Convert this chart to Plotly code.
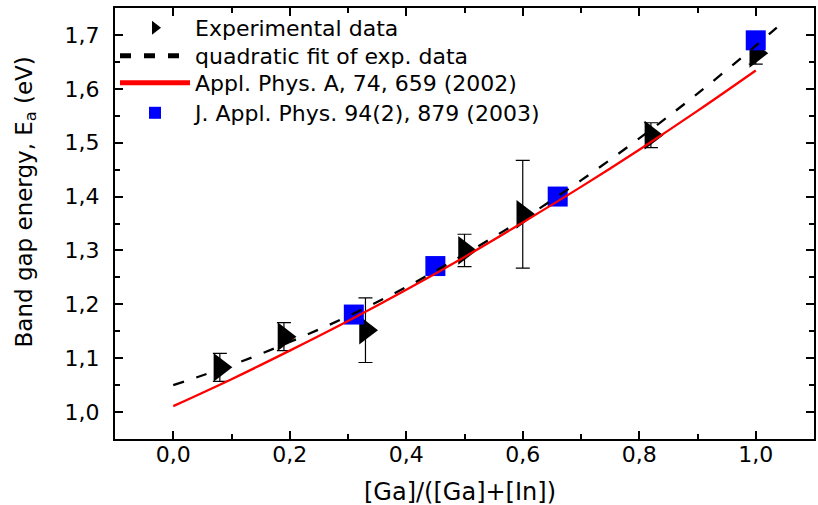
import plotly.graph_objects as go

# Experimental band gap of Cu(In,Ga)Se2 vs. Ga fraction
exp_x = [0.08, 0.19, 0.33, 0.50, 0.60, 0.82, 1.00]
exp_y = [1.083, 1.140, 1.152, 1.300, 1.367, 1.514, 1.666]
exp_err = [0.026, 0.026, 0.060, 0.030, 0.100, 0.023, 0.020]

# Quadratic fit of the experimental data (curve values)
fit_x = [0.0, 0.1, 0.2, 0.3, 0.4, 0.5, 0.6, 0.7, 0.8, 0.9, 1.0, 1.05]
fit_y = [1.050, 1.087, 1.130, 1.178, 1.232, 1.293, 1.358, 1.430, 1.508, 1.591, 1.680, 1.727]

# Appl. Phys. A, 74, 659 (2002)
apa_x = [0.0, 0.1, 0.2, 0.3, 0.4, 0.5, 0.6, 0.7, 0.8, 0.9, 1.0]
apa_y = [1.011, 1.061, 1.114, 1.169, 1.227, 1.288, 1.352, 1.418, 1.487, 1.559, 1.634]

# J. Appl. Phys. 94(2), 879 (2003)
jap_x = [0.31, 0.45, 0.66, 1.00]
jap_y = [1.181, 1.271, 1.400, 1.690]

FONT = "DejaVu Sans"

fig = go.Figure()

fig.add_trace(go.Scatter(
    x=exp_x, y=exp_y, mode="markers", name="Experimental data", legend="legend",
    marker=dict(symbol="triangle-right", size=25, color="black"),
    error_y=dict(type="data", array=exp_err, visible=True, color="black",
                 thickness=1.2, width=7),
))
fig.add_trace(go.Scatter(
    x=jap_x, y=jap_y, mode="markers", name="J. Appl. Phys. 94(2), 879 (2003)",
    legend="legend4",
    marker=dict(symbol="square", size=20, color="#0000ff"),
))
fig.add_trace(go.Scatter(
    x=apa_x, y=apa_y, mode="lines", name="Appl. Phys. A, 74, 659 (2002)",
    legend="legend3", line=dict(color="#ff0000", width=2.3, shape="spline"),
))
fig.add_trace(go.Scatter(
    x=fit_x, y=fit_y, mode="lines", name="quadratic fit of exp. data",
    legend="legend2", line=dict(color="black", width=2.3, dash="11px,13px", shape="spline"),
))

axis_common = dict(
    showline=True, linecolor="black", linewidth=2, mirror="ticks",
    ticks="inside", ticklen=8, tickwidth=1.5, tickcolor="black",
    showgrid=False, zeroline=False, tickformat=".1f",
    tickfont=dict(family=FONT, size=22, color="black"),
)

fig.update_xaxes(
    range=[-0.1, 1.1], tick0=0, dtick=0.2, ticklabelstandoff=-5,
    minor=dict(ticks="inside", ticklen=5, dtick=0.1, tickwidth=1.5, tickcolor="black"),
    **axis_common,
)
fig.update_yaxes(
    range=[0.95, 1.75], tick0=1.0, dtick=0.1, ticklabelstandoff=9,
    minor=dict(ticks="inside", ticklen=5, dtick=0.05, tickwidth=1.5, tickcolor="black"),
    **axis_common,
)


def legend_row(y):
    # one legend box per row so the rows keep their own spacing
    return dict(
        x=0.0, y=y, xanchor="left", yanchor="middle",
        bgcolor="rgba(0,0,0,0)", borderwidth=0,
        font=dict(family=FONT, size=22, color="black"),
        itemwidth=70, itemsizing="constant",
    )


fig.update_layout(
    width=818, height=505,
    margin=dict(l=115, r=2, t=8, b=66),
    paper_bgcolor="white", plot_bgcolor="white",
    separators=",.",
    font=dict(family=FONT, color="black"),
    showlegend=True,
    legend=legend_row(0.9536),
    legend2=legend_row(0.8886),
    legend3=legend_row(0.8260),
    legend4=legend_row(0.7564),
    annotations=[
        dict(text="[Ga]/([Ga]+[In])", xref="paper", yref="paper",
             x=0.4936, y=-0.123, xanchor="center", yanchor="middle",
             showarrow=False, font=dict(family=FONT, size=24, color="black")),
        dict(text="Band gap energy, E<sub>a</sub> (eV)", xref="paper", yref="paper",
             x=-0.128, y=0.55, xanchor="center", yanchor="middle", textangle=-90,
             showarrow=False, font=dict(family=FONT, size=23, color="black")),
    ],
)

fig.write_html("out.html")
